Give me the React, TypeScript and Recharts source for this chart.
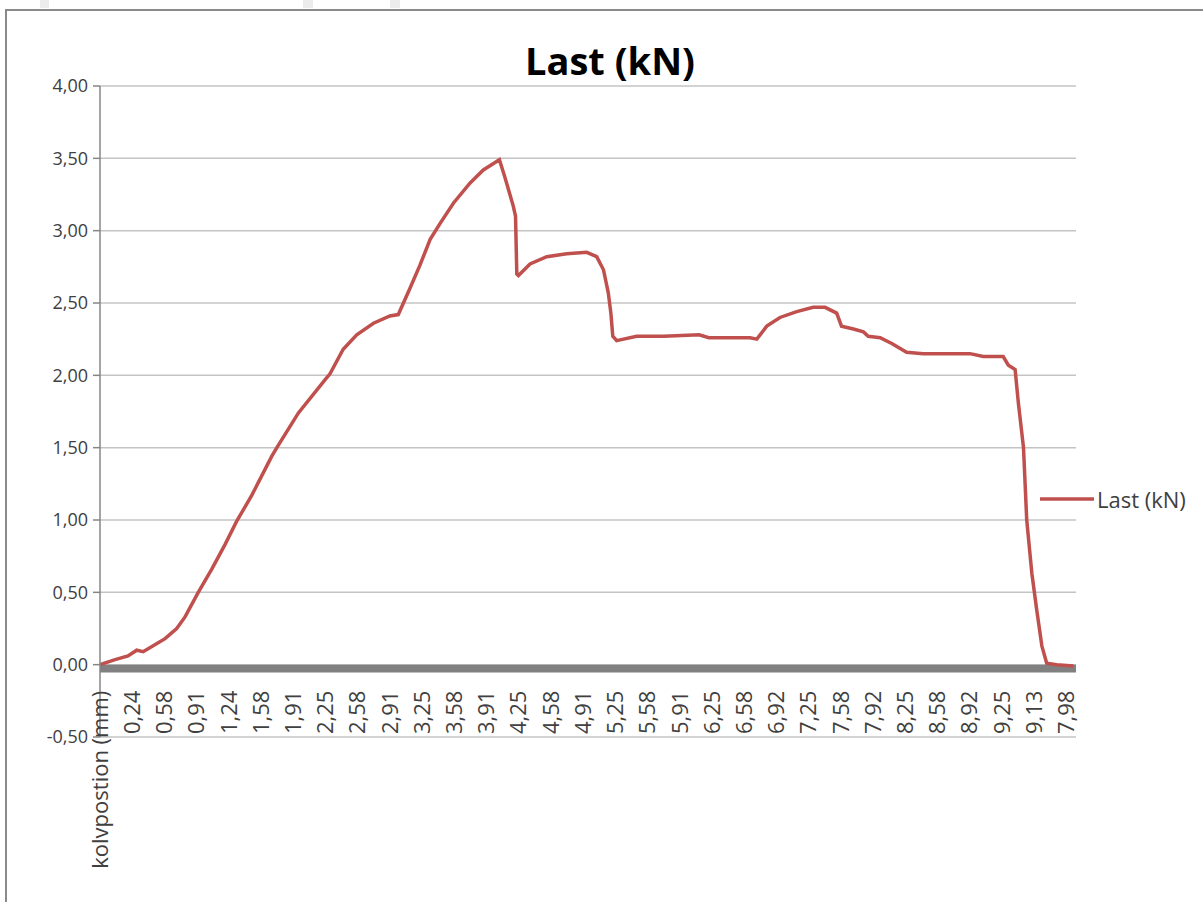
import React from 'react';
import { LineChart, Line, XAxis, YAxis, CartesianGrid, Legend, ReferenceArea } from 'recharts';

// category labels shown under the axis (every tenth-ish sample in the source sheet)
const tickLabels = [
  'kolvpostion (mm)', '0,24', '0,58', '0,91', '1,24', '1,58', '1,91', '2,25', '2,58', '2,91',
  '3,25', '3,58', '3,91', '4,25', '4,58', '4,91', '5,25', '5,58', '5,91', '6,25',
  '6,58', '6,92', '7,25', '7,58', '7,92', '8,25', '8,58', '8,92', '9,25', '9,13', '7,98',
];

// position of each sample, in label steps from the first category
const pointPos = [
  0, 0.47, 0.87, 1.14, 1.34, 1.65, 2.02, 2.38, 2.64, 3.05,
  3.47, 3.88, 4.24, 4.71, 5.33, 5.49, 6.16, 6.99, 7.14, 7.55,
  7.97, 8.49, 9.0, 9.26, 9.62, 9.93, 10.25, 10.56, 10.97, 11.49,
  11.9, 12.4, 12.57, 12.83, 12.9, 12.94, 12.99, 13.35, 13.87, 14.49,
  15.11, 15.42, 15.63, 15.78, 15.86, 15.92, 16.04, 16.66, 17.5, 18.6,
  18.9, 20.18, 20.39, 20.7, 21.11, 21.63, 22.14, 22.51, 22.87, 23.02,
  23.39, 23.7, 23.85, 24.22, 24.58, 25.04, 25.56, 26.49, 27.01, 27.42,
  28.04, 28.2, 28.41, 28.51, 28.67, 28.77, 28.93, 29.08, 29.24, 29.39,
  29.7, 30.22,
];

// Last (kN)
const lastKN = [
  0, 0.035, 0.06, 0.1, 0.09, 0.13, 0.18, 0.25, 0.33, 0.5,
  0.66, 0.83, 0.99, 1.17, 1.44, 1.5, 1.74, 1.97, 2.01, 2.18,
  2.28, 2.36, 2.41, 2.42, 2.6, 2.76, 2.94, 3.05, 3.19, 3.33,
  3.42, 3.49, 3.37, 3.17, 3.1, 2.7, 2.69, 2.77, 2.82, 2.84,
  2.85, 2.82, 2.73, 2.57, 2.43, 2.27, 2.24, 2.27, 2.27, 2.28,
  2.26, 2.26, 2.25, 2.34, 2.4, 2.44, 2.47, 2.47, 2.43, 2.34,
  2.32, 2.3, 2.27, 2.26, 2.22, 2.16, 2.15, 2.15, 2.15, 2.13,
  2.13, 2.07, 2.04, 1.81, 1.5, 1.0, 0.63, 0.38, 0.13, 0.01,
  0, -0.01,
];

const yTicks = [-0.5, 0, 0.5, 1, 1.5, 2, 2.5, 3, 3.5, 4];

const data = pointPos.map((pos, i) => ({ pos, last: lastKN[i] }));
const xTicks = tickLabels.map((_, i) => i);

const RED = '#c0504d';
const AXIS = '#868686';
const TEXT = '#404040';
const FONT = '"Open Sans", "DejaVu Sans", sans-serif';

const PLOT_TOP = 86;
const PLOT_BOTTOM = 737;
const ZERO_Y = PLOT_TOP + (PLOT_BOTTOM - PLOT_TOP) * (4 / 4.5);

const fmt = (v: number) => v.toFixed(2).replace('.', ',');

const XTick = (props: any) => {
  const { x, payload } = props;
  const label = tickLabels[payload.value];
  return (
    <text
      transform={`translate(${x},${ZERO_Y + 26}) rotate(-90)`}
      textAnchor="end"
      dy="0.35em"
      fontSize={22}
      fontFamily={FONT}
      fill={TEXT}
    >
      {label}
    </text>
  );
};

const LegendBox = () => (
  <div style={{ display: 'flex', alignItems: 'center', fontFamily: FONT, fontSize: 22, color: TEXT, whiteSpace: 'nowrap' }}>
    <svg width={57} height={10}>
      <line x1={0} y1={5} x2={54} y2={5} stroke={RED} strokeWidth={3.5} />
    </svg>
    <span style={{ lineHeight: '24px' }}>Last (kN)</span>
  </div>
);

export default function App() {
  return (
    <div style={{ position: 'absolute', left: 0, top: 0, width: 1203, height: 902, overflow: 'hidden', background: '#fff' }}>
      <div style={{ position: 'absolute', left: 40, top: 0, width: 9, height: 8, background: '#ececec' }} />
      <div style={{ position: 'absolute', left: 303, top: 0, width: 10, height: 8, background: '#ececec' }} />
      <div style={{ position: 'absolute', left: 390, top: 0, width: 10, height: 8, background: '#ececec' }} />
      <div style={{ position: 'absolute', left: 5, top: 9, width: 1300, height: 1000, border: '2px solid #8a8a8a', boxSizing: 'border-box' }} />
      <div
        style={{
          position: 'absolute', left: 0, top: 41, width: 1220, textAlign: 'center',
          fontFamily: FONT, fontWeight: 700, fontSize: 38, lineHeight: '38px', color: '#000',
        }}
      >
        Last (kN)
      </div>
      <div style={{ position: 'absolute', left: 0, top: 0 }}>
        <LineChart width={1203} height={902} data={data} margin={{ top: PLOT_TOP, right: 127, bottom: 135, left: 40 }}>
          <CartesianGrid vertical={false} stroke="#c4c4c4" strokeWidth={1.5} />
          <XAxis
            type="number"
            dataKey="pos"
            domain={[0, 30.3]}
            ticks={xTicks}
            interval={0}
            height={30}
            axisLine={false}
            tickLine={false}
            tick={<XTick />}
          />
          <YAxis
            type="number"
            domain={[-0.5, 4]}
            ticks={yTicks}
            interval={0}
            width={60}
            tickFormatter={fmt}
            tickSize={7}
            tickMargin={5}
            axisLine={{ stroke: AXIS, strokeWidth: 1.5 }}
            tickLine={{ stroke: AXIS, strokeWidth: 1.5 }}
            tick={{ fontSize: 18, fill: TEXT, fontFamily: FONT }}
          />
          <ReferenceArea y1={-0.055} y2={0} fill="#808080" fillOpacity={1} stroke="none" ifOverflow="extendDomain" />
          <Line
            type="linear"
            dataKey="last"
            stroke={RED}
            strokeWidth={3.5}
            dot={false}
            isAnimationActive={false}
          />
          <Legend
            layout="horizontal"
            align="center"
            verticalAlign="middle"
            content={<LegendBox />}
            wrapperStyle={{ left: 1040, top: 487, width: 160, height: 26 }}
          />
        </LineChart>
      </div>
    </div>
  );
}
